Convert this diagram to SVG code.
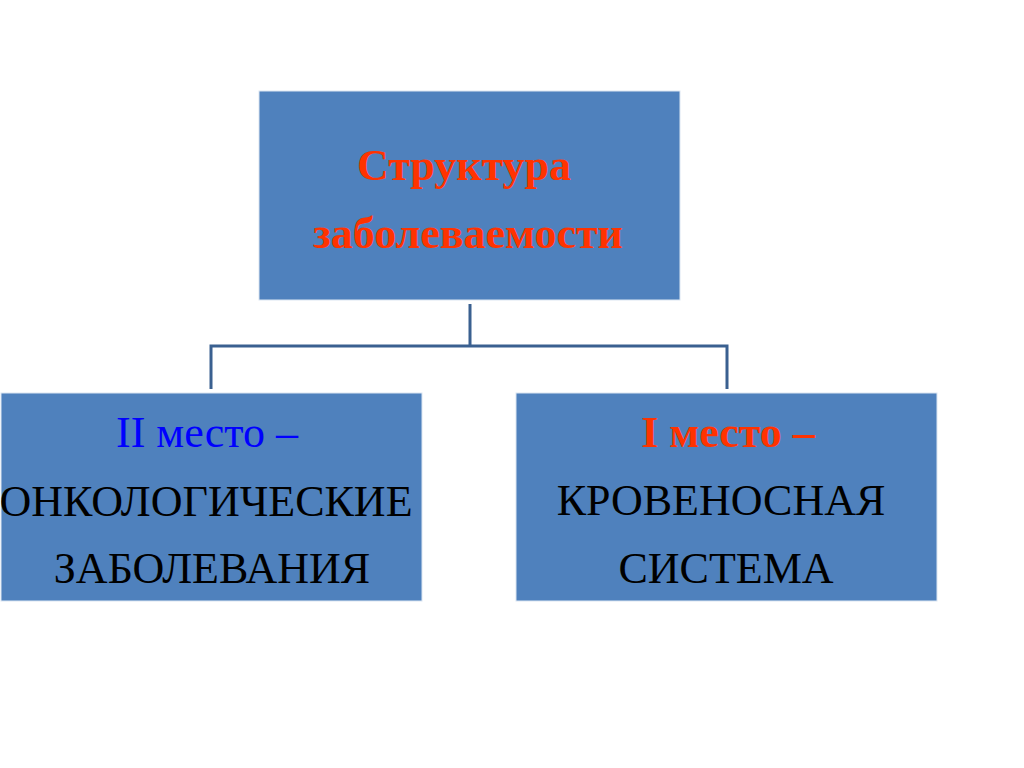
<svg xmlns="http://www.w3.org/2000/svg" width="1024" height="768" viewBox="0 0 1024 768">
<style>
.box{fill:#4f81bd;stroke:#dce6f2;stroke-width:1}
.conn{fill:none;stroke:#3a6090;stroke-width:3}
text{font-family:"Liberation Serif","Times New Roman",serif;font-size:44px;text-anchor:middle}
.red{fill:#ff3300;font-weight:bold}
.blue{fill:#0000ff}
.blk{fill:#000}
</style>
<rect width="1024" height="768" fill="#fff"/>
<g id="connectors">
<path class="conn" d="M470 304V346M211 389V346H727V389"/>
</g>
<g id="top">
<rect class="box" x="259" y="91" width="421" height="209"/>
<text class="red" x="464" y="180">Структура</text>
<text class="red" x="468" y="248">заболеваемости</text>
</g>
<g id="left">
<rect class="box" x="1" y="393" width="421" height="208"/>
<text class="blue" x="207" y="447">II место –</text>
<text class="blk" x="206" y="516">ОНКОЛОГИЧЕСКИЕ</text>
<text class="blk" x="212" y="583">ЗАБОЛЕВАНИЯ</text>
</g>
<g id="right">
<rect class="box" x="516" y="393" width="421" height="208"/>
<text class="red" x="728" y="447">I место –</text>
<text class="blk" x="721" y="515">КРОВЕНОСНАЯ</text>
<text class="blk" x="726" y="583">СИСТЕМА</text>
</g>
</svg>
